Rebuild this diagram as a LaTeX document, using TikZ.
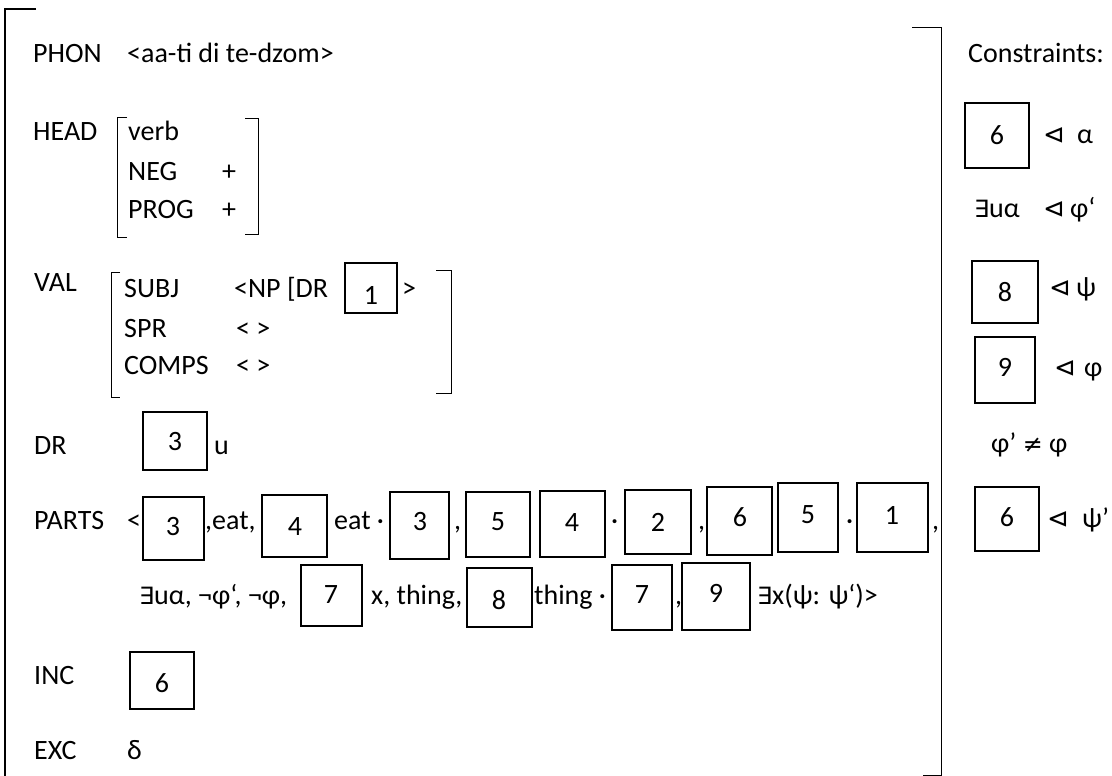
\documentclass[tikz,border=0pt]{standalone}
\usepackage{fontspec}
\setmainfont{Carlito}
\newfontfamily\symf[Scale=0.85]{DejaVu Sans}
\newfontfamily\trif{DejaVu Sans}
\usetikzlibrary{fit}
\newcommand{\Ex}{{\symf ∃}}
\newcommand{\Tri}{{\trif\fontsize{26}{30}\selectfont ⊲}}
\newcommand{\Neq}{{\symf ≠}}
\newcommand{\tagb}[8]{%
  \path (#2,#3) coordinate (#1-a) (#4,#5) coordinate (#1-b);
  \node[tagbox, fit=(#1-a)(#1-b)] (#1) {};
  \node[dg] (#1-n) at (#7,#8) {#6};}
\begin{document}
\begin{tikzpicture}[x=1pt,y=-1pt, font=\fontsize{28}{32}\selectfont,
  lbl/.style={anchor=base west, inner sep=0pt},
  dg/.style={anchor=center, inner sep=0pt},
  tagbox/.style={draw, line width=1.8pt, inner sep=0pt},
  brk/.style={line width=1pt}]
\useasboundingbox (0,0) rectangle (1112,776);
% outer brackets
\draw[brk, line width=1.3pt] (36,9) -- (5,9) -- (5,776);
\draw[brk] (912,28) -- (941,28) -- (941,775) -- (923,775);
% PHON
\node[lbl] (phon) at (33,63) {PHON};
\node[lbl] (phonv) at (127,63) {<aa-ti di te-dzom>};
% HEAD
\node[lbl] (head) at (33,140) {HEAD};
\draw[brk] (127,117) -- (117,117) -- (117,237) -- (127,237);
\draw[brk] (245,118) -- (258,118) -- (258,234) -- (245,234);
\node[lbl] (verb) at (128,140) {verb};
\node[lbl] (neg) at (128,180) {NEG};
\node[lbl] (negv) at (222,180) {+};
\node[lbl] (prog) at (128,218) {PROG};
\node[lbl] (progv) at (222,218) {+};
% VAL
\node[lbl] (val) at (34,291) {VAL};
\draw[brk] (120,272) -- (111,272) -- (111,397) -- (120,397);
\draw[brk] (436,270) -- (451,270) -- (451,393) -- (436,393);
\node[lbl] (subj) at (124,297) {SUBJ};
\node[lbl] (subjv) at (234,297) {<NP [DR};
\tagb{b1}{345}{263}{397}{313}{1}{371}{295}
\node[lbl] (subjc) at (402,297) {>};
\node[lbl] (spr) at (124,337) {SPR};
\node[lbl] (sprv) at (236,337) {< >};
\node[lbl] (comps) at (124,374) {COMPS};
\node[lbl] (compsv) at (236,374) {< >};
% DR
\node[lbl] (dr) at (34,454) {DR};
\tagb{dr3}{143}{412}{207}{470}{3}{175}{442}
\node[lbl] (dru) at (214,454) {u};
% PARTS row 1
\node[lbl] (parts) at (34,529) {PARTS};
\node[lbl] (plt) at (127,529) {<};
\tagb{p3}{143}{497}{204}{560}{3}{173}{527}
\node[lbl] (peat) at (205,529) {,eat,};
\tagb{p4}{262}{495}{327}{557}{4}{295}{527}
\node[lbl] (peat2) at (334,529) {eat ·};
\tagb{p3b}{390}{492}{449}{559}{3}{420}{522}
\node[lbl] (pc1) at (454,529) {,};
\tagb{p5}{466}{492}{530}{557}{5}{498}{522}
\tagb{p4b}{540}{491}{605}{557}{4}{572}{523}
\node[lbl] (pd1) at (611,529) {·};
\tagb{p2}{625}{490}{691}{554}{2}{658}{522}
\node[lbl] (pc2) at (698,529) {,};
\tagb{p6}{707}{487}{772}{555}{6}{740}{517}
\tagb{p5b}{778}{483}{838}{552}{5}{808}{515}
\node[lbl] (pd2) at (846,529) {·};
\tagb{p1}{857}{483}{928}{552}{1}{892}{515}
\node[lbl] (pc3) at (932,529) {,};
% PARTS row 2
\node[lbl] (q1) at (139,604) {\Ex uα, ¬φ‘, ¬φ,};
\tagb{q7}{301}{565}{362}{626}{7}{331}{595}
\node[lbl] (q2) at (371,604) {x, thing,};
\tagb{q8}{467}{568}{532}{627}{8}{499}{600}
\node[lbl] (q3) at (534,604) {thing ·};
\tagb{q7b}{612}{565}{672}{630}{7}{642}{595}
\node[lbl] (q4) at (675,604) {,};
\tagb{q9}{682}{563}{750}{630}{9}{716}{593}
\node[lbl] (q5) at (757,604) {\Ex x(ψ: ψ‘)>};
% INC
\node[lbl] (inc) at (34,684) {INC};
\tagb{i6}{130}{652}{194}{709}{6}{162}{683}
% EXC
\node[lbl] (exc) at (34,759) {EXC};
\node[lbl] (excv) at (127,759) {δ};
% Constraints
\node[lbl] (cons) at (968,63) {Constraints:};
\tagb{c6}{965}{103}{1029}{168}{6}{997}{135}
\node[lbl] (c6t) at (1043,143) {\Tri};
\node[lbl] (c6v) at (1077,143) {α};
\node[lbl] (c2a) at (974,217) {\Ex uα};
\node[lbl] (c2t) at (1043,217) {\Tri};
\node[lbl] (c2v) at (1070,217) {φ‘};
\tagb{c8}{972}{261}{1038}{323}{8}{1005}{292}
\node[lbl] (c8t) at (1049,296) {\Tri};
\node[lbl] (c8v) at (1076,296) {ψ};
\tagb{c9}{975}{337}{1035}{403}{9}{1005}{367}
\node[lbl] (c9t) at (1054,376) {\Tri};
\node[lbl] (c9v) at (1084,376) {φ};
\node[lbl] (cneq) at (991,452) {φ’ \Neq{} φ};
\tagb{c6b}{975}{487}{1039}{551}{6}{1007}{517}
\node[lbl] (c6bt) at (1047,527) {\Tri};
\node[lbl] (c6bv) at (1082,527) {ψ’};
\end{tikzpicture}
\end{document}
